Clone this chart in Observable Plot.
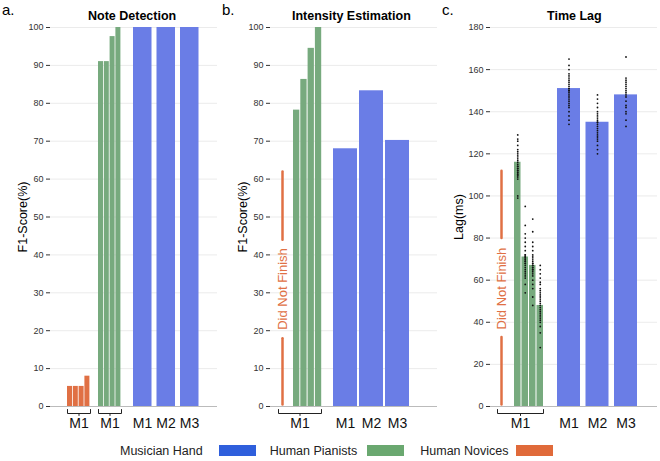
<!DOCTYPE html>
<html><head><meta charset="utf-8">
<script src="https://cdn.jsdelivr.net/npm/d3@7"></script>
<script src="https://cdn.jsdelivr.net/npm/@observablehq/plot@0.6"></script>
<style>
body{margin:0;background:#fff;font-family:"Liberation Sans",Arial,sans-serif;}
#row{display:flex;position:relative;width:660px;height:440px;}
.panel{position:relative;width:220px;height:440px;}
.lab{position:absolute;font-size:15px;top:1px;left:2px;line-height:17px;}
.ttl{position:absolute;font-weight:bold;font-size:12.5px;top:9px;}
#legend{height:21px;font-size:12.5px;display:flex;align-items:center;color:#222;}
.sw{display:inline-block;width:37px;height:11px;}
</style></head><body>
<div id="row"></div>
<div id="legend"></div>
<script>
const colHand="#6a7de6", colNov="#77aa7e", colHum="#e07044";
// a. Note Detection
const aHuman=[5.3,5.3,5.3,8];
const aNovice=[91,91,97.6,100];
const aHand=[100,100,100];
// b. Intensity Estimation
const bNovice=[78.2,86.3,94.5,100];
const bHand=[68,83.3,70.2];
// c. Time Lag
const cNovice=[116,71,67,48];
const cHand=[151,135,148];
const handLabels=["M1","M2","M3"];
const cNoviceDots=[
 [99,100,108,109,110,110,111,111,112,112,113,113,114,114,115,116,117,118,119,120,121,122,124,126,127,129],
 [54,58,61,62,63,64,65,66,67,68,68,69,69,70,70,71,71,72,72,74,76,78,80,82,86,95],
 [48,52,56,58,60,62,63,64,65,65,66,66,67,67,68,68,69,70,71,72,74,76,78,83,89],
 [28,35,38,40,41,42,43,44,45,46,47,48,49,50,51,52,53,54,55,56,58,59,61,63,65,67]];
const cHandDots=[
 [134,136,138,140,142,143,144,145,146,147,148,149,150,150,151,151,152,153,154,155,156,157,158,160,162,165],
 [120,122,124,126,127,128,129,130,131,132,133,134,135,135,136,137,138,139,140,142,144,146,148],
 [133,136,139,140,142,143,145,147,148,149,150,151,152,153,154,155,156,166]];

const H=440, MT=27, MB=34, ML=50, PH=H-MT-MB;
function panel(o){
  const W=o.w, ppu=PH/o.ymax, u=px=>-px/ppu;
  const bars=[];
  const add=(vals,start,step,w,fill)=>vals.forEach((v,i)=>bars.push({x1:start+i*step,x2:start+i*step+w,y:v,fill}));
  o.groups.forEach(g=>add(g.vals,g.start,g.step,g.w,g.fill));
  const marks=[
    Plot.gridY({ticks:d3.range(0,o.ymax+1,o.tick),stroke:"#ddd",strokeOpacity:0.6}),
    Plot.axisY({ticks:d3.range(0,o.ymax+1,o.tick),tickSize:4,fontSize:9,color:"#333",label:null,tickPadding:3}),
    Plot.ruleY([0],{stroke:"#bbb"}),
    Plot.rectY(bars,{x1:"x1",x2:"x2",y:"y",fill:"fill"})
  ];
  if(o.dots){
    const pts=[]; o.dots.forEach(d=>d.vals.forEach(v=>pts.push({x:d.x,y:v})));
    marks.push(Plot.dot(pts,{x:"x",y:"y",r:0.9,fill:"#111"}));
  }
  o.brackets.forEach(b=>{
    marks.push(Plot.line([[b[0],u(3)],[b[0],u(7)],[b[1],u(7)],[b[1],u(3)]],{stroke:"#222",strokeWidth:1}));
    marks.push(Plot.line([[(b[0]+b[1])/2,u(7)],[(b[0]+b[1])/2,u(9)]],{stroke:"#222",strokeWidth:1}));
  });
  marks.push(Plot.text(o.xlabels,{x:"x",y:()=>u(17),text:"t",fontSize:14,fill:"#111"}));
  if(o.dnf){
    const d=o.dnf;
    marks.push(Plot.line([[d.x,d.a[0]],[d.x,d.a[1]]],{stroke:colHum,strokeWidth:2.5}));
    marks.push(Plot.line([[d.x,d.b[0]],[d.x,d.b[1]]],{stroke:colHum,strokeWidth:2.5}));
    marks.push(Plot.text(["Did Not Finish"],{x:d.x,y:d.mid,text:t=>t,rotate:-90,fill:colHum,fontSize:13}));
  }
  const p=Plot.plot({width:220,height:H,marginTop:MT,marginBottom:MB,marginLeft:ML,marginRight:220-ML-W,
    x:{domain:[0,W],range:[ML,ML+W],axis:null},
    y:{domain:[0,o.ymax],label:null,axis:null},
    style:{fontFamily:"Liberation Sans, Arial, sans-serif",overflow:"visible"},marks});
  const div=document.createElement("div");div.className="panel";
  div.appendChild(p);
  div.insertAdjacentHTML("beforeend",`<div class="lab">${o.lab}</div><div class="ttl" style="left:${o.tx}px">${o.title}</div>
  <div style="position:absolute;left:${o.yl}px;top:${MT+PH/2}px;transform:translate(-50%,-50%) rotate(-90deg);font-size:12.5px;white-space:nowrap">${o.ylabel}</div>`);
  document.getElementById("row").appendChild(div);
}
panel({lab:"a.",title:"Note Detection",tx:88,ylabel:"F1-Score(%)",yl:23,w:167,ymax:100,tick:10,
  groups:[{vals:aHuman,start:17,step:5.8,w:5,fill:colHum},{vals:aNovice,start:48,step:5.8,w:5,fill:colNov},{vals:aHand,start:83,step:23.5,w:18.5,fill:colHand}],
  brackets:[[17,40],[48,71]],
  xlabels:[{x:28.5,t:"M1"},{x:59.5,t:"M1"},...handLabels.map((t,i)=>({x:92+i*23.5,t}))]});
panel({lab:"b.",title:"Intensity Estimation",tx:72,ylabel:"F1-Score(%)",yl:23,w:167,ymax:100,tick:10,
  groups:[{vals:bNovice,start:23,step:7.3,w:6.3,fill:colNov},{vals:bHand,start:63,step:26,w:24,fill:colHand}],
  brackets:[[8,51]],dnf:{x:12,a:[0.5,18],b:[44,62],mid:31},
  xlabels:[{x:29.5,t:"M1"},...handLabels.map((t,i)=>({x:75+i*26,t}))]});
panel({lab:"c.",title:"Time Lag",tx:107,ylabel:"Lag(ms)",yl:19,w:167,ymax:180,tick:20,
  groups:[{vals:cNovice,start:24,step:7.5,w:6.5,fill:colNov},{vals:cHand,start:67,step:28.5,w:23,fill:colHand}],
  dots:[...cNoviceDots.map((v,i)=>({x:27.25+i*7.5,vals:v})),...cHandDots.map((v,i)=>({x:78.5+i*28.5,vals:v}))],
  brackets:[[7,53]],dnf:{x:11,a:[1,33],b:[80,112],mid:56},
  xlabels:[{x:30,t:"M1"},...handLabels.map((t,i)=>({x:78.5+i*28.5,t}))]});
document.getElementById("legend").innerHTML=
 `<span style="margin-left:120px">Musician Hand</span><span class="sw" style="background:#2f5fdc;margin-left:16px"></span>
  <span style="margin-left:14px">Human Pianists</span><span class="sw" style="background:#6aa870;margin-left:10px"></span>
  <span style="margin-left:16px">Human Novices</span><span class="sw" style="background:#e06a3a;margin-left:8px"></span>`;
</script></body></html>
